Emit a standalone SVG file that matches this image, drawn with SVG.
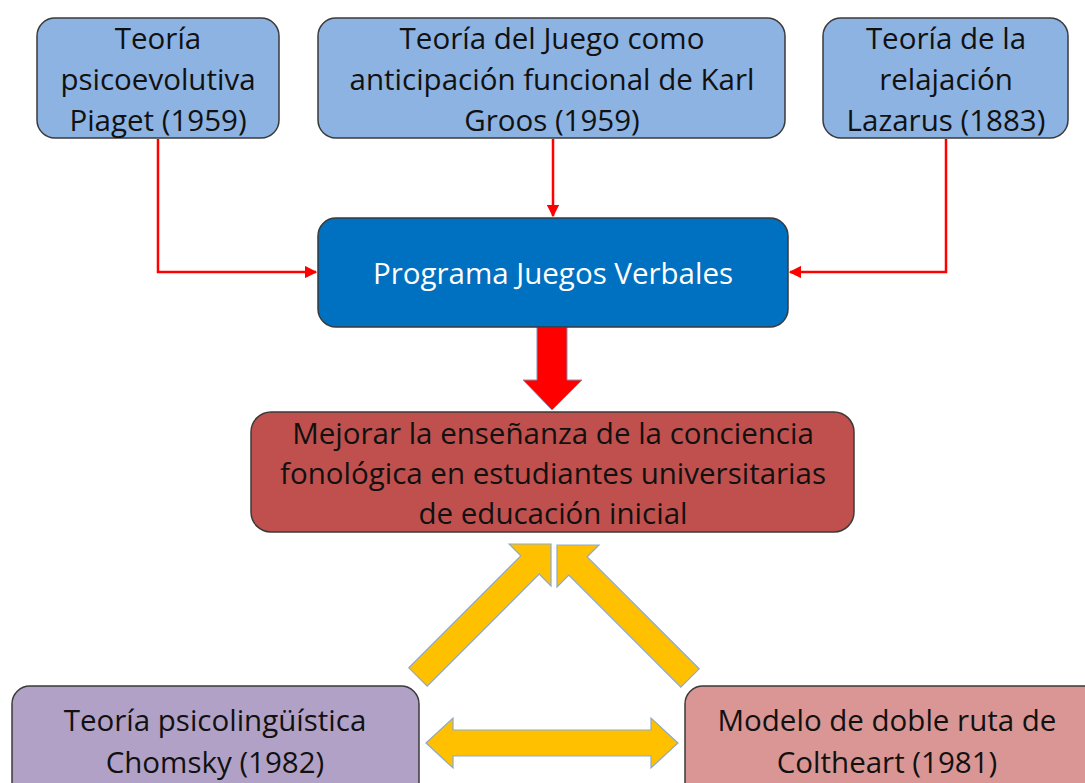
<svg xmlns="http://www.w3.org/2000/svg" width="1085" height="783" viewBox="0 0 1085 783">
<defs>
<style>
.box{stroke:#3a3a3a;stroke-width:1.5}
.t{font-family:"Open Sans","Liberation Sans",sans-serif;font-size:29.5px;fill:#111;text-anchor:middle}
.w{fill:#ffffff}
.conn{fill:none;stroke:#ff0000;stroke-width:2.5}
.yel{fill:#ffc000;stroke:#8ea9c8;stroke-width:1.2;stroke-linejoin:miter}
</style>
<marker id="ah" viewBox="0 0 10 10" refX="9" refY="5" markerWidth="5" markerHeight="5" orient="auto" markerUnits="strokeWidth">
<path d="M0,0 L10,5 L0,10 z" fill="#ff0000"/>
</marker>
</defs>
<rect width="1085" height="783" fill="#ffffff"/>

<g id="connectors">
<path class="conn" d="M158,139 V272 H316" marker-end="url(#ah)"/>
<path class="conn" d="M553,139 V216" marker-end="url(#ah)"/>
<path class="conn" d="M946,139 V272 H790" marker-end="url(#ah)"/>
<polygon points="537,327 567,327 567,380 582,380 552,410 523,380 537,380" fill="#ff0000" stroke="#7f8fb8" stroke-width="1"/>
<polygon class="yel" points="551,544 509,544 520.8,555.8 408.8,667.8 427.2,686.2 539.2,574.2 551,586"/>
<polygon class="yel" points="557,545 599,545 587.2,556.8 699.2,668.8 680.8,687.2 568.8,575.2 557,587"/>
<polygon class="yel" points="426,743 453,718 453,730 651,730 651,718 678,743 651,768 651,756 453,756 453,768"/>
</g>

<g id="node-piaget">
<rect class="box" x="37" y="18" width="242" height="120" rx="18" fill="#8db3e2"/>
<text class="t" x="158" y="49">Teoría</text>
<text class="t" x="158" y="90">psicoevolutiva</text>
<text class="t" x="158" y="131">Piaget (1959)</text>
</g>

<g id="node-groos">
<rect class="box" x="318" y="18" width="467" height="120" rx="18" fill="#8db3e2"/>
<text class="t" x="552" y="49">Teoría del Juego como</text>
<text class="t" x="552" y="90">anticipación funcional de Karl</text>
<text class="t" x="552" y="131">Groos (1959)</text>
</g>

<g id="node-lazarus">
<rect class="box" x="823" y="18" width="245" height="120" rx="18" fill="#8db3e2"/>
<text class="t" x="946" y="49">Teoría de la</text>
<text class="t" x="946" y="90">relajación</text>
<text class="t" x="946" y="131">Lazarus (1883)</text>
</g>

<g id="node-programa">
<rect class="box" x="318" y="218" width="470" height="109" rx="18" fill="#0070c0"/>
<text class="t w" x="553" y="284">Programa Juegos Verbales</text>
</g>

<g id="node-mejorar">
<rect class="box" x="251" y="412" width="603" height="120" rx="20" fill="#c0504d"/>
<text class="t" x="553" y="444">Mejorar la enseñanza de la conciencia</text>
<text class="t" x="553" y="484">fonológica en estudiantes universitarias</text>
<text class="t" x="553" y="524">de educación inicial</text>
</g>

<g id="node-chomsky">
<rect class="box" x="12" y="686" width="407" height="120" rx="18" fill="#b2a1c7"/>
<text class="t" x="215" y="731">Teoría psicolingüística</text>
<text class="t" x="215" y="773">Chomsky (1982)</text>
</g>

<g id="node-coltheart">
<rect class="box" x="685" y="686" width="420" height="120" rx="18" fill="#d99694"/>
<text class="t" x="887" y="731">Modelo de doble ruta de</text>
<text class="t" x="887" y="773">Coltheart (1981)</text>
</g>
</svg>
